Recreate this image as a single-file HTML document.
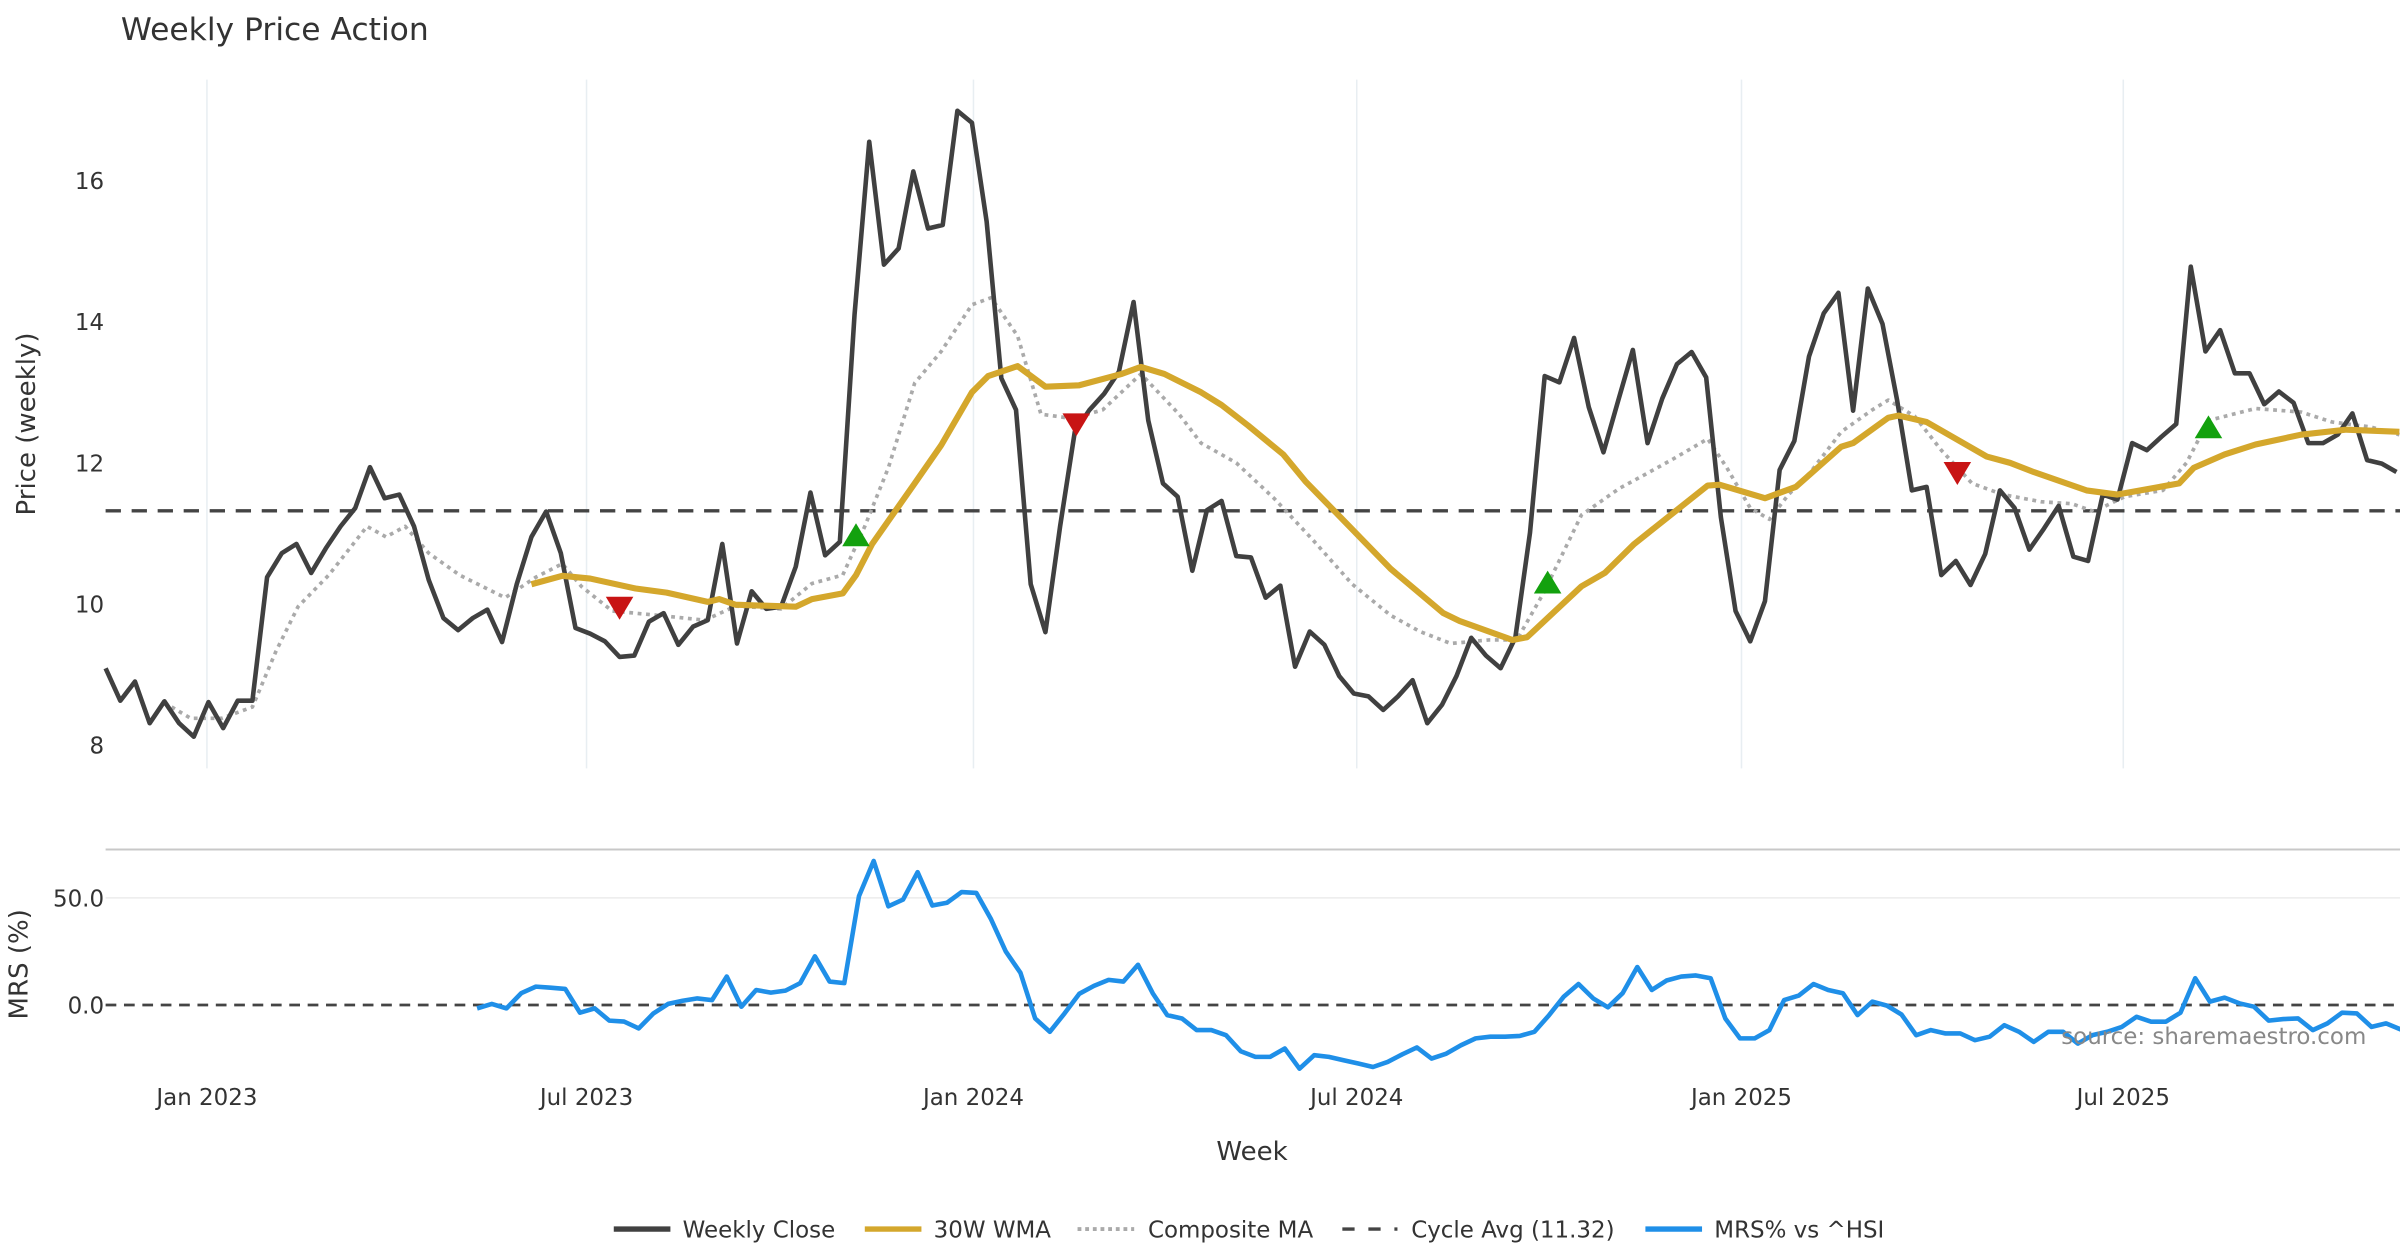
<!DOCTYPE html>
<html><head><meta charset="utf-8"><title>Weekly Price Action</title>
<style>
html,body{margin:0;padding:0;background:#fff;}
svg{display:block;font-family:"DejaVu Sans","Liberation Sans",sans-serif;}
</style></head>
<body>
<svg id="chart" width="2400" height="1260" viewBox="0 0 1568 823.2" preserveAspectRatio="none" xmlns="http://www.w3.org/2000/svg">
<rect x="0" y="0" width="1568" height="823.2" fill="#fff"/>
<text x="79" y="26" font-size="20.5" fill="#333">Weekly Price Action</text>
<g id="grid"></g>
<g id="price"></g>
<g id="mrs"></g>
<g id="axes"></g>
<text transform="translate(23,277) rotate(-90)" text-anchor="middle" font-size="17" fill="#333">Price (weekly)</text>
<text transform="translate(18,630) rotate(-90)" text-anchor="middle" font-size="17" fill="#333">MRS (%)</text>
<text x="818" y="758" text-anchor="middle" font-size="17" fill="#333">Week</text>
<text x="1546" y="682" text-anchor="end" font-size="15" fill="#888">source: sharemaestro.com</text>
<g id="legend">
  <line x1="401" y1="803" x2="438" y2="803" stroke="#404040" stroke-width="3.5"/>
  <text x="446" y="808.5" font-size="15" fill="#333">Weekly Close</text>
  <line x1="565" y1="803" x2="602" y2="803" stroke="#d4a72c" stroke-width="3.5"/>
  <text x="610" y="808.5" font-size="15" fill="#333">30W WMA</text>
  <line x1="704" y1="803" x2="741" y2="803" stroke="#aaa" stroke-width="2.5" stroke-dasharray="2.5 2.5"/>
  <text x="750" y="808.5" font-size="15" fill="#333">Composite MA</text>
  <line x1="877" y1="803" x2="913" y2="803" stroke="#444" stroke-width="2.2" stroke-dasharray="8 9"/>
  <text x="922" y="808.5" font-size="15" fill="#333">Cycle Avg (11.32)</text>
  <line x1="1075" y1="803" x2="1112" y2="803" stroke="#1f8fe8" stroke-width="3.5"/>
  <text x="1120" y="808.5" font-size="15" fill="#333">MRS% vs ^HSI</text>
</g>
</svg>
<script>
const closeValues=[9.09,8.63,8.90,8.31,8.62,8.31,8.12,8.61,8.24,8.63,8.63,10.38,10.72,10.85,10.44,10.79,11.10,11.36,11.94,11.50,11.55,11.10,10.34,9.80,9.63,9.80,9.92,9.46,10.28,10.95,11.31,10.72,9.66,9.58,9.47,9.25,9.27,9.75,9.87,9.42,9.68,9.77,10.85,9.44,10.18,9.93,9.96,10.53,11.58,10.69,10.88,14.10,16.55,14.81,15.04,16.13,15.32,15.37,16.99,16.82,15.42,13.20,12.75,10.28,9.60,11.10,12.44,12.75,12.98,13.29,14.28,12.60,11.71,11.52,10.47,
11.33,11.46,10.68,10.66,10.09,10.26,9.11,9.61,9.42,8.98,8.73,8.69,8.50,8.69,8.92,8.31,8.57,8.98,9.52,9.27,9.09,9.52,11.01,13.23,13.14,13.77,12.79,12.15,12.88,13.60,12.28,12.91,13.40,13.57,13.21,11.23,9.90,9.47,10.04,11.90,12.31,13.51,14.12,14.41,12.74,14.47,13.97,12.88,11.61,11.66,10.41,10.61,10.27,10.71,11.61,11.36,10.77,11.07,11.39,10.67,10.61,11.55,11.48,12.28,12.18,12.37,12.55,14.78,13.58,13.88,13.27,13.27,12.83,13.01,12.85,12.28,12.28,12.40,12.70,12.04,11.99,11.87];
const wmaWeeks=[29.0,31.1,33.0,36.1,38.2,41.0,41.8,42.9,47.0,48.1,50.2,51.1,52.2,55.1,56.9,59.0,60.1,62.1,64.0,66.3,69.2,70.5,72.1,74.6,76.0,77.8,80.2,81.7,83.8,87.5,91.1,92.2,95.8,96.8,100.5,102.1,104.1,106.2,109.1,109.9,113.0,115.1,118.2,119.0,121.4,122.1,124.0,128.1,129.7,131.3,134.9,137.0,141.2,142.2,144.3,146.4,149.5,152.6,156.2];
const wmaValues=[10.28,10.40,10.36,10.22,10.16,10.03,10.07,9.99,9.96,10.07,10.15,10.41,10.85,11.71,12.25,13.0,13.23,13.37,13.08,13.10,13.26,13.36,13.26,13.0,12.82,12.53,12.12,11.74,11.29,10.50,9.87,9.76,9.49,9.53,10.25,10.44,10.85,11.20,11.68,11.69,11.50,11.66,12.23,12.28,12.64,12.67,12.58,12.09,12.0,11.87,11.61,11.55,11.71,11.93,12.12,12.26,12.40,12.47,12.44];
const compWeeks=[4.0,5.8,7.9,10.0,11.6,13.1,15.2,17.8,19.1,20.4,22.0,24.1,27.2,29.3,31.1,32.4,34.5,37.6,40.8,42.9,46.0,48.1,50.2,51.7,53.3,55.1,56.9,59.0,60.3,62.1,63.7,65.8,67.9,70.5,73.1,74.6,77.0,79.6,82.2,84.9,87.5,89.5,91.6,94.2,96.1,97.9,100.5,103.1,104.7,106.8,109.1,110.4,112.0,113.3,114.6,116.1,118.2,120.3,121.4,123.2,125.0,127.1,129.2,131.8,133.9,135.4,137.5,140.1,141.7,143.2,146.4,149.5,151.6,154.2,156.2];
const compValues=[8.60,8.38,8.38,8.54,9.33,9.96,10.41,11.10,10.95,11.10,10.72,10.41,10.09,10.38,10.57,10.25,9.90,9.84,9.77,9.97,9.93,10.29,10.41,11.10,11.93,13.13,13.58,14.24,14.34,13.80,12.69,12.63,12.75,13.26,12.69,12.28,12.0,11.49,10.91,10.28,9.84,9.61,9.44,9.49,9.49,10.15,11.26,11.64,11.82,12.06,12.34,11.93,11.36,11.20,11.55,11.87,12.44,12.75,12.89,12.66,12.18,11.71,11.55,11.45,11.42,11.31,11.52,11.61,12.0,12.6,12.77,12.72,12.58,12.51,12.40];
const cycleAvg=11.32;
const buyWeeks=[51.1,98.2,143.2];
const buyValues=[10.97,10.30,12.5];
const sellWeeks=[35,66.1,126.1];
const sellValues=[9.95,12.55,11.86];
const mrsStart=25.3;
const mrsValues=[-1.6,0.5,-1.6,5.5,8.6,8.1,7.5,-3.6,-1.6,-7.3,-7.7,-10.9,-3.9,0.5,2.0,3.1,2.3,13.3,-0.8,7.0,5.8,6.7,10.2,22.7,10.9,10.2,50.8,67.2,46.1,49.2,62.0,46.4,47.7,52.7,52.3,40,25,15,-6.3,-12.5,-3.9,5.2,8.9,11.7,10.9,18.8,5.5,-4.7,-6.3,-11.7,-11.7,-14.1,-21.6,-24.2,-24.2,-20.3,-29.7,-23.4,-24.2,-25.8,-27.3,-28.9,-26.6,-23.0,-19.8,-25.0,-22.7,-18.8,-15.6,-14.8,-14.8,-14.4,-12.5,-4.7,3.9,9.8,3.1,-1.1,5.5,17.7,7.0,11.4,13.3,13.8,12.5,-6.3,-15.6,-15.6,-11.7,2.3,4.4,9.8,7.0,5.5,-4.7,1.6,-0.3,-4.4,-14.1,-11.7,-13.3,-13.3,-16.4,-14.8,-9.4,-12.5,-17.2,-12.5,-12.5,-18.0,-14.1,-12.5,-10.2,-5.5,-7.8,-7.8,-3.6,12.5,1.6,3.4,0.8,-0.8,-7.3,-6.6,-6.3,-11.7,-8.6,-3.6,-3.9,-10.2,-8.6,-11.4];
const priceTicks=[8,10,12,14,16];
const mrsTicks=[0,50];
const xTickWeeks=[6.9,32.75,59.1,85.2,111.4,137.4];
const xTickLabels=["Jan 2023","Jul 2023","Jan 2024","Jul 2024","Jan 2025","Jul 2025"];

const NS="http://www.w3.org/2000/svg";
const X=i=>69+i*9.594;
const YP=v=>118+(16-v)*46.1;
const YM=v=>656.6-v*1.4;
function mk(tag,attrs,parent){const e=document.createElementNS(NS,tag);for(const k in attrs)e.setAttribute(k,attrs[k]);parent.appendChild(e);return e;}
const grid=document.getElementById('grid'),price=document.getElementById('price'),mrs=document.getElementById('mrs'),axes=document.getElementById('axes');

xTickWeeks.forEach((w,k)=>{
  const g=mk('line',{x1:X(w),x2:X(w),y1:52,y2:502,stroke:'#e8eef2','stroke-width':1},grid);
  
  
  const t=mk('text',{x:X(w),y:722,'text-anchor':'middle','font-size':15,fill:'#333'},axes);
  t.textContent=xTickLabels[k];
  
  
});
priceTicks.forEach(v=>{
  const t=mk('text',{x:68,y:YP(v)+5.5,'text-anchor':'end','font-size':15,fill:'#333'},axes);
  t.textContent=v;
  
  
});
mrsTicks.forEach(v=>{
  if(v!==0){const gl=mk('line',{x1:69,x2:1568,y1:YM(v),y2:YM(v),stroke:'#ececec','stroke-width':1},grid);
  
  }
  const t=mk('text',{x:68,y:YM(v)+5.5,'text-anchor':'end','font-size':15,fill:'#333'},axes);
  t.textContent=v.toFixed(1);
  
  
});
const sep=mk('line',{x1:69,x2:1568,y1:555,y2:555,stroke:'#c8c8c8','stroke-width':1.3},grid);



const cyc=mk('line',{x1:69,x2:1568,y1:YP(cycleAvg),y2:YP(cycleAvg),stroke:'#444','stroke-width':2.2,'stroke-dasharray':'10 7'},price);



function pts(ws,vs,yf){return vs.map((v,i)=>X(ws[i]).toFixed(1)+','+yf(v).toFixed(1)).join(' ');}
const comp=mk('polyline',{points:pts(compWeeks,compValues,YP),fill:'none',stroke:'#aaa','stroke-width':2.4,'stroke-dasharray':'2.5 3','stroke-linejoin':'round'},price);


const cl=mk('polyline',{points:pts(closeValues.map((_,i)=>i),closeValues,YP),fill:'none',stroke:'#404040','stroke-width':3,'stroke-linejoin':'round'},price);


const wma=mk('polyline',{points:pts(wmaWeeks,wmaValues,YP),fill:'none',stroke:'#d4a72c','stroke-width':4,'stroke-linejoin':'round'},price);


buyWeeks.forEach((w,i)=>{const x=X(w),y=YP(buyValues[i]);
  const p=mk('polygon',{points:`${x-9},${y+7} ${x+9},${y+7} ${x},${y-8}`,fill:'#13a10e'},price);
  
  });
sellWeeks.forEach((w,i)=>{const x=X(w),y=YP(sellValues[i]);
  const p=mk('polygon',{points:`${x-9},${y-7} ${x+9},${y-7} ${x},${y+8}`,fill:'#c81414'},price);
  
  });

const zero=mk('line',{x1:69,x2:1568,y1:YM(0),y2:YM(0),stroke:'#444','stroke-width':1.8,'stroke-dasharray':'7 5'},mrs);


const ml=mk('polyline',{points:pts(mrsValues.map((_,i)=>mrsStart+i),mrsValues,YM),fill:'none',stroke:'#1f8fe8','stroke-width':3,'stroke-linejoin':'round'},mrs);


</script>
</body></html>
